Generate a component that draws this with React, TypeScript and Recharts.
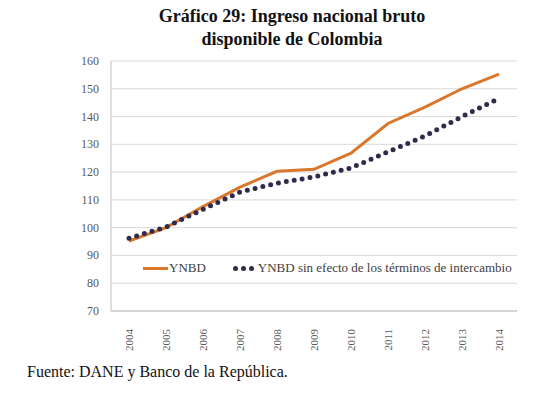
import { LineChart, Line, XAxis, YAxis, CartesianGrid } from "recharts";

const YEARS = ["2004", "2005", "2006", "2007", "2008", "2009", "2010", "2011", "2012", "2013", "2014"];
const YNBD = [95.2, 100, 107.6, 114.6, 120.3, 121, 126.8, 137.5, 143.4, 150, 155.3];
const YNBD_SIN_TI = [96.2, 100.2, 106.6, 112.8, 116, 118.3, 121.5, 127.3, 133, 140, 146.5];
const Y_TICKS = [70, 80, 90, 100, 110, 120, 130, 140, 150, 160];

const ORANGE = "#D9782D";
const NAVY = "#2F2B4C";
const FONT = "'Liberation Serif', 'DejaVu Serif', serif";

const data = YEARS.map((year, i) => ({ year, ynbd: YNBD[i], sinTi: YNBD_SIN_TI[i] }));

function YearTick({ x, y, payload }: any) {
    return (
        <text
            x={0}
            y={0}
            transform={`translate(${x + 4},${y + 10}) rotate(-90)`}
            textAnchor="end"
            fill="#595959"
            fontSize={11}
            style={{ fontFamily: FONT }}
        >
            {payload.value}
        </text>
    );
}

function ValueTick({ x, y, payload }: any) {
    return (
        <text x={x} y={y} dy={4} textAnchor="end" fill="#595959" fontSize={12} style={{ fontFamily: FONT }}>
            {payload.value}
        </text>
    );
}

function ChartLegend() {
    return (
        <div style={{ display: "flex", alignItems: "center", fontSize: 13, color: "#404040" }}>
            <span style={{ display: "inline-block", width: 25, height: 3, background: ORANGE, marginRight: 1 }} />
            <span>YNBD</span>
            <span style={{ display: "inline-flex", gap: 3, marginLeft: 27, marginRight: 4 }}>
                {[0, 1, 2].map((i) => (
                    <span key={i} style={{ width: 5, height: 5, borderRadius: "50%", background: NAVY }} />
                ))}
            </span>
            <span>YNBD sin efecto de los términos de intercambio</span>
        </div>
    );
}

export default function App() {
    return (
        <div
            style={{
                position: "absolute",
                left: 0,
                top: 0,
                width: 546,
                height: 394,
                background: "#fff",
                fontFamily: FONT,
            }}
        >
            <div
                style={{
                    position: "absolute",
                    left: 0,
                    top: 5,
                    width: 584,
                    textAlign: "center",
                    fontWeight: "bold",
                    fontSize: 18,
                    lineHeight: "23px",
                    color: "#111",
                }}
            >
                Gráfico 29: Ingreso nacional bruto
                <br />
                disponible de Colombia
            </div>
            <div style={{ position: "absolute", left: 0, top: 0 }}>
                <LineChart width={546} height={352} data={data} margin={{ top: 61, right: 29, left: 71, bottom: 1 }}>
                    <CartesianGrid vertical={false} stroke="#D9D9D9" />
                    <XAxis
                        dataKey="year"
                        stroke="#BFBFBF"
                        tickLine={false}
                        tick={<YearTick />}
                        height={40}
                        interval={0}
                        padding={{ left: 18, right: 18 }}
                    />
                    <YAxis
                        domain={[70, 160]}
                        ticks={Y_TICKS}
                        width={40}
                        stroke="#BFBFBF"
                        tickLine={false}
                        tick={<ValueTick />}
                        tickMargin={6}
                    />
                    <YAxis yAxisId="right" orientation="right" width={0} tick={false} tickLine={false} stroke="#BFBFBF" />
                    <Line
                        dataKey="ynbd"
                        stroke={ORANGE}
                        strokeWidth={3}
                        dot={false}
                        isAnimationActive={false}
                    />
                    <Line
                        dataKey="sinTi"
                        stroke={NAVY}
                        strokeWidth={5}
                        strokeDasharray="0 8"
                        strokeLinecap="round"
                        dot={false}
                        isAnimationActive={false}
                    />
                </LineChart>
            </div>
            <div style={{ position: "absolute", left: 143, top: 260 }}>
                <ChartLegend />
            </div>
            <div
                style={{
                    position: "absolute",
                    left: 27,
                    top: 363,
                    fontSize: 16,
                    color: "#111",
                }}
            >
                Fuente: DANE y Banco de la República.
            </div>
        </div>
    );
}
